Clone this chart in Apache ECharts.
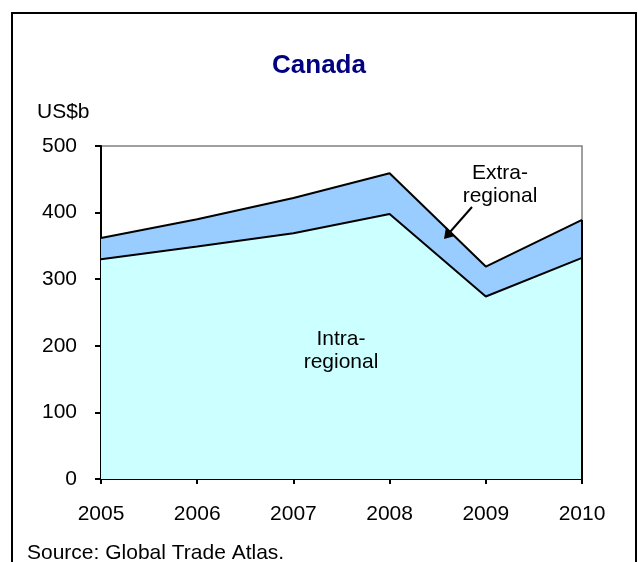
<!DOCTYPE html>
<html>
<head>
<meta charset="utf-8">
<script src="https://cdn.jsdelivr.net/npm/echarts@6/dist/echarts.min.js"></script>
<style>
  html, body { margin: 0; padding: 0; background: #fff; }
  #chart { width: 638px; height: 562px; }
</style>
</head>
<body>
<div id="chart"></div>
<script>
  // data (US$b)
  var years = ['2005', '2006', '2007', '2008', '2009', '2010'];
  var intraRegional = [330, 349, 369, 398, 274, 332];
  var extraRegional = [32, 41, 53, 61, 45, 57];
  var yTicks = [0, 100, 200, 300, 400, 500];

  var totals = intraRegional.map(function (v, i) { return v + extraRegional[i]; });
  var lastYear = years[years.length - 1];

  var font = 'Liberation Sans, Arial, sans-serif';
  var chart = echarts.init(document.getElementById('chart'));

  var option = {
    animation: false,
    backgroundColor: '#fff',
    title: {
      text: 'Canada',
      left: 'center',
      top: 48,
      textStyle: { color: '#000080', fontSize: 26, fontWeight: 'bold', fontFamily: font }
    },
    grid: {
      left: 101, right: 56, top: 146, bottom: 83,
      show: true, borderColor: '#808080', borderWidth: 1.5, backgroundColor: 'transparent'
    },
    xAxis: {
      type: 'category',
      data: years,
      boundaryGap: false,
      axisLine: { lineStyle: { color: '#000', width: 2 } },
      axisTick: { show: true, length: 5, lineStyle: { color: '#000', width: 2 } },
      axisLabel: { color: '#000', fontSize: 21, fontFamily: font, margin: 25 }
    },
    yAxis: {
      type: 'value',
      min: yTicks[0],
      max: yTicks[yTicks.length - 1],
      interval: 100,
      splitLine: { show: false },
      axisLine: { show: true, lineStyle: { color: '#000', width: 2 } },
      axisTick: { show: true, length: 6, lineStyle: { color: '#000', width: 2 } },
      axisLabel: { color: '#000', fontSize: 21, fontFamily: font, margin: 24 }
    },
    series: [
      {
        name: 'Intra-regional',
        type: 'line',
        stack: 'trade',
        data: intraRegional,
        symbol: 'none',
        lineStyle: { color: '#000', width: 2 },
        areaStyle: { color: '#CCFFFF', opacity: 1 }
      },
      {
        name: 'Extra-regional',
        type: 'line',
        stack: 'trade',
        data: extraRegional,
        symbol: 'none',
        lineStyle: { color: '#000', width: 2 },
        areaStyle: { color: '#99CCFF', opacity: 1 },
        markLine: {
          silent: true,
          symbol: 'none',
          label: { show: false },
          lineStyle: { color: '#000', width: 2, type: 'solid' },
          data: [[{ coord: [lastYear, 0] }, { coord: [lastYear, totals[totals.length - 1]] }]]
        }
      }
    ],
    graphic: [
      {
        type: 'rect',
        shape: { x: 12, y: 13, width: 624, height: 600 },
        style: { fill: 'none', stroke: '#000', lineWidth: 2 },
        z: 100
      },
      {
        type: 'text', left: 37, top: 102,
        style: { text: 'US$b', fontSize: 21, fontFamily: font, fill: '#000' }
      },
      {
        type: 'text', left: 27, top: 543,
        style: { text: 'Source: Global Trade Atlas.', fontSize: 21, fontFamily: font, fill: '#000' }
      },
      {
        type: 'text', x: 341, y: 328, z: 50,
        style: { text: 'Intra-\nregional', fontSize: 21, fontFamily: font, fill: '#000', align: 'center', lineHeight: 23 }
      },
      {
        type: 'text', x: 500, y: 162, z: 50,
        style: { text: 'Extra-\nregional', fontSize: 21, fontFamily: font, fill: '#000', align: 'center', lineHeight: 23 }
      },
      {
        type: 'line', z: 50,
        shape: { x1: 472, y1: 207, x2: 450, y2: 232 },
        style: { stroke: '#000', lineWidth: 2 }
      },
      {
        type: 'polygon', z: 50,
        shape: { points: [[444, 239], [446, 227], [455, 236]] },
        style: { fill: '#000' }
      }
    ]
  };

  option && chart.setOption(option);
</script>
</body>
</html>
